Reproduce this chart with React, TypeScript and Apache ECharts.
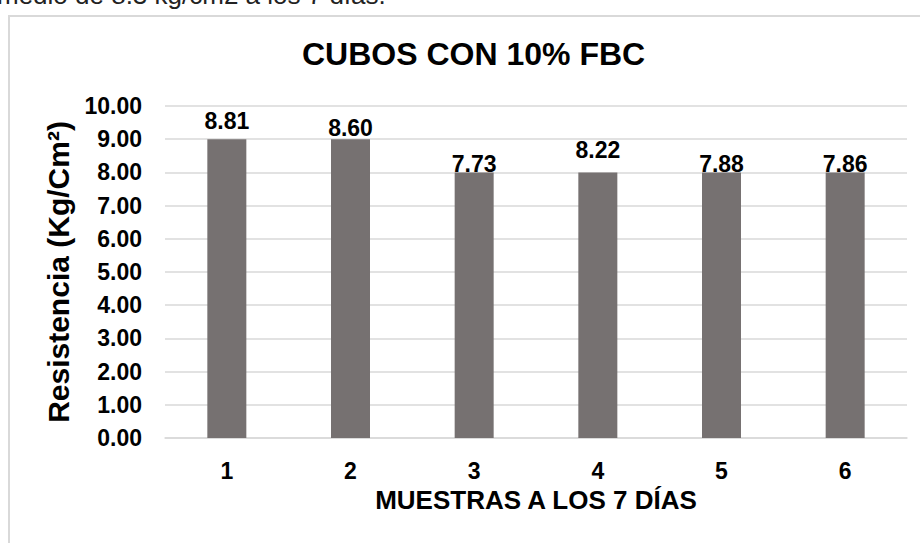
import React, { useEffect, useRef } from "react";
import * as echarts from "echarts";

const categories = ["1", "2", "3", "4", "5", "6"];
const barValues = [9, 9, 8, 8, 8, 8];
const labelValues = ["8.81", "8.60", "7.73", "8.22", "7.88", "7.86"];
const labelShifts = [-2, 5, 8, -6, 8, 8];
const yTicks = { min: 0, max: 10, interval: 1 };

const FONT = "'Liberation Sans', Arial, Helvetica, sans-serif";

export default function App() {
  const ref = useRef<HTMLDivElement>(null);
  useEffect(() => {
    if (!ref.current) return;
    const chart = echarts.init(ref.current, undefined, { renderer: "svg" });
    chart.setOption({
      animation: false,
      backgroundColor: "#ffffff",
      title: {
        text: "CUBOS CON 10% FBC",
        left: 302,
        top: 38,
        padding: 0,
        textStyle: { fontFamily: FONT, fontSize: 32, fontWeight: "bold", color: "#000" },
      },
      graphic: [
        {
          type: "rect",
          shape: { x: 9, y: 16, width: 1000, height: 1000 },
          style: { fill: "none", stroke: "#d9d9d9", lineWidth: 2 },
          silent: true,
        },
        {
          type: "text",
          x: -3,
          y: -5,
          style: {
            text: "medio de 8.3 kg/cm2 a los 7 días.",
            font: `26px ${FONT}`,
            fill: "#222",
            verticalAlign: "middle",
          },
          silent: true,
        },
      ],
      grid: { left: 165, right: 13, top: 106, bottom: 105, containLabel: false },
      xAxis: {
        type: "category",
        data: categories,
        axisLine: { lineStyle: { color: "#d9d9d9", width: 1.5 } },
        axisTick: { show: false },
        axisLabel: { margin: 21, fontFamily: FONT, fontSize: 23, fontWeight: "bold", color: "#000" },
        name: "MUESTRAS A LOS 7 DÍAS",
        nameLocation: "middle",
        nameGap: 49,
        nameTextStyle: { fontFamily: FONT, fontSize: 26, fontWeight: "bold", color: "#000" },
      },
      yAxis: {
        type: "value",
        min: yTicks.min,
        max: yTicks.max,
        interval: yTicks.interval,
        axisLine: { show: false },
        axisTick: { show: false },
        splitLine: { lineStyle: { color: "#d9d9d9", width: 1.5 } },
        axisLabel: {
          margin: 23,
          fontFamily: FONT,
          fontSize: 23,
          fontWeight: "bold",
          color: "#000",
          formatter: (v: number) => v.toFixed(2),
        },
        name: "Resistencia (Kg/Cm²)",
        nameLocation: "middle",
        nameGap: 90,
        nameRotate: 90,
        nameTextStyle: { fontFamily: FONT, fontSize: 30, fontWeight: "bold", color: "#000" },
      },
      series: [
        {
          type: "bar",
          barWidth: 39,
          itemStyle: { color: "#767171" },
          data: barValues.map((v, i) => ({
            value: v,
            label: {
              show: true,
              position: "top",
              offset: [0, labelShifts[i]],
              formatter: () => labelValues[i],
              fontFamily: FONT,
              fontSize: 23,
              fontWeight: "bold",
              color: "#000",
            },
          })),
        },
      ],
    });
    return () => chart.dispose();
  }, []);
  return (
    <div
      ref={ref}
      style={{ position: "fixed", left: 0, top: 0, width: 920, height: 543 }}
    />
  );
}
